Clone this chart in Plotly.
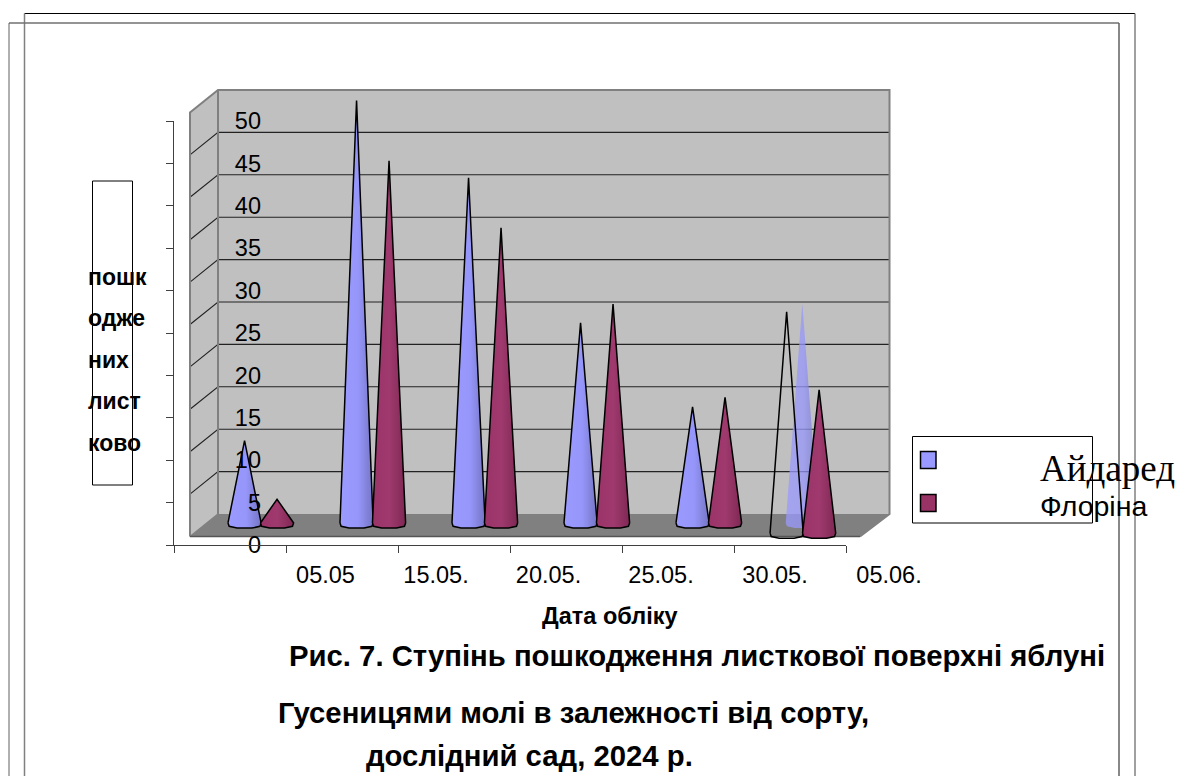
import plotly.graph_objects as go

W, H = 1178, 776

# ---- data ----
tick_labels = ["05.05", "15.05.", "20.05.", "25.05.", "30.05.", "05.06."]
label_centres_px = [325.5, 436, 548.5, 661, 775, 889]
y_ticks = [0, 5, 10, 15, 20, 25, 30, 35, 40, 45, 50]
aydared = [10.3, 50.4, 41.3, 24.2, 14.3, 26.5]
florina = [3.4, 43.3, 35.4, 26.4, 15.4, 17.5]
outline_value = 26.7            # empty outlined cone of the last group
blue_pos = [0.63, 1.63, 2.63, 3.63, 4.63, 5.61]
red_pos = [0.92, 1.92, 2.92, 3.92, 4.92, 5.76]
outline_pos = 5.47
red_base = [2, 2, 2, 2, 2, 0.8]
ylabel_lines = ["пошк", "одже", "них", "лист", "ково"]

# ---- pixel geometry ----
X0, X1 = 174.0, 846.0
Y0, Y50 = 545.0, 121.0
XWIDE, YTOP = 1000.0, 60.0
SX = (X1 - X0) / 6
SY = (Y0 - Y50) / 50
def px(x): return x / W
def py(y): return 1 - y / H
def dx(x): return (x - X0) / SX
def dy(y): return (Y0 - y) / SY

BACK_X0, BACK_X1 = dx(218), dx(889.5)
FRONT_X0, FRONT_X1 = dx(190), dx(860)
BACK_Y0, FRONT_Y0 = dy(514), dy(536.5)

fig = go.Figure()

def poly(xs, ys, fill):
    fig.add_trace(go.Scatter(x=xs, y=ys, mode="lines", fill="toself", fillcolor=fill,
                             line=dict(color=fill, width=0),
                             cliponaxis=False, showlegend=False, hoverinfo="skip"))

def seg(xs, ys, color, width):
    fig.add_trace(go.Scatter(x=xs, y=ys, mode="lines", line=dict(color=color, width=width),
                             cliponaxis=False, showlegend=False, hoverinfo="skip"))

# walls and floor
top_back = BACK_Y0 + 50
top_front = FRONT_Y0 + 50
poly([BACK_X0, BACK_X1, BACK_X1, BACK_X0, BACK_X0],
     [BACK_Y0, BACK_Y0, top_back, top_back, BACK_Y0], "#C0C0C0")
poly([FRONT_X0, BACK_X0, BACK_X0, FRONT_X0, FRONT_X0],
     [FRONT_Y0, BACK_Y0, top_back, top_front, FRONT_Y0], "#C0C0C0")
poly([FRONT_X0, BACK_X0, BACK_X1, FRONT_X1, FRONT_X0],
     [FRONT_Y0, BACK_Y0, BACK_Y0, FRONT_Y0, FRONT_Y0], "#808080")
for v in y_ticks[1:-1]:
    seg([FRONT_X0, BACK_X0, BACK_X1], [FRONT_Y0 + v, BACK_Y0 + v, BACK_Y0 + v], "#222222", 1.1)
seg([FRONT_X0, FRONT_X0, BACK_X0, BACK_X1, BACK_X1, FRONT_X1],
    [FRONT_Y0, top_front, top_back, top_back, BACK_Y0, FRONT_Y0], "#808080", 2)
seg([BACK_X0, BACK_X0], [BACK_Y0, top_back], "#808080", 2)
seg([FRONT_X0, BACK_X0], [FRONT_Y0, BACK_Y0], "#808080", 1.5)
seg([FRONT_X0, FRONT_X1], [FRONT_Y0, FRONT_Y0], "#555555", 1.5)

HW = 0.148
def cone(cx, base, value, colorscale=None, outline="#000000", opacity=1.0, width=1.5):
    xs = [cx - HW, cx, cx + HW, cx + HW * 0.93, cx + HW * 0.45, cx - HW * 0.45, cx - HW * 0.93, cx - HW]
    ys = [base + 0.6, base + value, base + 0.6, base + 0.2, base, base, base + 0.2, base + 0.6]
    kw = dict(mode="lines", cliponaxis=False, showlegend=False, hoverinfo="skip", opacity=opacity)
    if colorscale:
        fig.add_trace(go.Scatter(x=xs, y=ys, fill="toself",
                                 fillgradient=dict(type="horizontal", colorscale=colorscale),
                                 line=dict(color=outline or "rgba(0,0,0,0)", width=width if outline else 0), **kw))
    else:
        fig.add_trace(go.Scatter(x=xs, y=ys, line=dict(color=outline, width=width), **kw))

BLUE = [[0, "#9A9AFF"], [0.55, "#9696FA"], [1, "#7474C4"]]
RED = [[0, "#9A3468"], [0.5, "#A03A6E"], [1, "#7E2854"]]

for i in range(5):
    cone(blue_pos[i], 2, aydared[i], BLUE)
    cone(red_pos[i], red_base[i], florina[i], RED)
cone(blue_pos[5], 2, aydared[5], BLUE, outline=None, opacity=0.75)
cone(outline_pos, 0.8, outline_value)
cone(red_pos[5], red_base[5], florina[5], RED)

# keep the tick-only axes alive
fig.add_trace(go.Scatter(x=[0], y=[0], xaxis="x2", yaxis="y2", mode="markers",
                         marker=dict(opacity=0), showlegend=False, hoverinfo="skip"))

tick_font = dict(family="Liberation Sans", size=23.5, color="#000000")
axis_line = dict(ticks="outside", ticklen=7, tickcolor="#404040", tickwidth=1, showline=True,
                 linecolor="#404040", linewidth=1, showgrid=False, zeroline=False, automargin=False)
fig.update_layout(
    template="none",
    width=W, height=H, margin=dict(l=0, r=0, t=0, b=0, pad=0),
    paper_bgcolor="#FFFFFF", plot_bgcolor="rgba(0,0,0,0)",
    xaxis=dict(domain=[px(X0), px(XWIDE)], range=[0, dx(XWIDE)], anchor="y",
               tickmode="array", tickvals=[dx(c) for c in label_centres_px], ticktext=tick_labels,
               ticks="", showgrid=False, zeroline=False, showline=False, tickfont=tick_font,
               ticklabelstandoff=13, automargin=False),
    yaxis=dict(domain=[py(Y0), py(YTOP)], range=[0, dy(YTOP)], anchor="x",
               tickmode="array", tickvals=y_ticks, ticks="", showgrid=False, zeroline=False,
               showline=False, tickfont=tick_font, ticklabelstandoff=-88, automargin=False),
    xaxis2=dict(domain=[px(X0), px(X1)], range=[0, 6], anchor="y2", tickmode="array",
                tickvals=[0, 1, 2, 3, 4, 5, 6], showticklabels=False, **axis_line),
    yaxis2=dict(domain=[py(Y0), py(Y50)], range=[0, 50], anchor="x2", tickmode="array",
                tickvals=y_ticks, showticklabels=False, **axis_line),
)

# frames, axis-title box, legend box and swatches
def line(x0, y0, x1, y1, color, width=1):
    fig.add_shape(type="line", xref="paper", yref="paper", x0=px(x0), y0=py(y0), x1=px(x1), y1=py(y1),
                  line=dict(color=color, width=width))
def rect(x0, y0, x1, y1, lc, lw=1, fill=None):
    fig.add_shape(type="rect", xref="paper", yref="paper", x0=px(x0), y0=py(y0), x1=px(x1), y1=py(y1),
                  line=dict(color=lc, width=lw), fillcolor=fill or "rgba(0,0,0,0)")

line(24.5, 13.5, 1135, 13.5, "#000000", 1)
line(24.5, 13.5, 24.5, H, "#808080", 1.5)
line(1135, 13.5, 1135, H, "#808080", 1.5)
line(9, 23, 1119, 23, "#707070", 1.5)
line(9, 23, 9, H, "#606060", 1)
line(1119, 23, 1119, H, "#606060", 1.5)
rect(92.5, 181, 132.5, 485, "#000000")
rect(912.5, 436.5, 1092.5, 523, "#000000")
rect(920.5, 451.5, 936, 468.5, "#000000", 1.5, "#9999FF")
rect(920.5, 494.5, 936, 511.5, "#000000", 1.5, "#993366")

def text(s, x, y, size, bold=False, family="Liberation Sans", anchor="left"):
    fig.add_annotation(text=f"<b>{s}</b>" if bold else s, xref="paper", yref="paper",
                       x=px(x), y=py(y), xanchor=anchor, yanchor="middle", showarrow=False,
                       borderpad=0, font=dict(family=family, size=size, color="#000000"))

for s, y in zip(ylabel_lines, [277, 318, 360, 401, 443]):
    text(s, 87, y, 23, bold=True)
text("Дата обліку", 610, 616, 23.5, bold=True, anchor="center")
text("Рис. 7. Ступінь пошкодження листкової поверхні яблуні", 288, 655, 29.3, bold=True)
text("Гусеницями молі в залежності від сорту,", 277, 712, 29.3, bold=True)
text("дослідний сад, 2024 р.", 365, 755, 29.3, bold=True)
text("Айдаред", 1039, 468, 37, family="Liberation Serif")
text("Флоріна", 1039, 506, 28.5)

fig.write_html("out.html", config={"displayModeBar": False},
               post_script="document.body.style.margin='0';")
